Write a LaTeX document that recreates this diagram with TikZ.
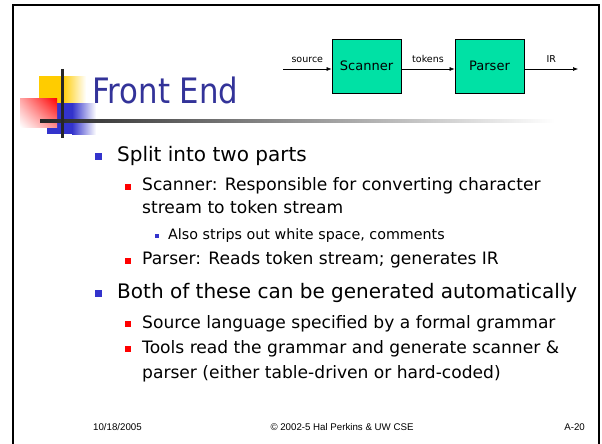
\documentclass[tikz,border=0pt]{standalone}
\usepackage{fontspec}
\setmainfont{DejaVu Sans}
\newfontfamily\titlefont{DejaVu Sans}[FakeStretch=0.88]
\newfontfamily\footfont{Liberation Sans}
\usetikzlibrary{arrows.meta,shadings}
\definecolor{titleblue}{RGB}{51,51,153}
\definecolor{bulletblue}{RGB}{51,51,204}
\definecolor{bulletred}{RGB}{255,0,0}
\definecolor{boxgreen}{RGB}{0,225,165}
\definecolor{decoyellow}{RGB}{255,204,0}

\begin{document}
\begin{tikzpicture}[x=1pt,y=-1pt,
  lvlone/.style={anchor=base west, inner sep=0pt, font=\fontsize{20}{24}\selectfont},
  lvltwo/.style={anchor=base west, inner sep=0pt, font=\fontsize{17.1}{20}\selectfont},
  lvlthree/.style={anchor=base west, inner sep=0pt, font=\fontsize{14.3}{17}\selectfont},
  stage/.style={draw=black, line width=0.8pt, fill=boxgreen, minimum width=69pt,
    minimum height=54pt, inner sep=0pt, font=\fontsize{13}{15}\selectfont},
  flow/.style={-{Latex[length=5pt,width=4pt]}, line width=0.6pt},
  flowlabel/.style={above, inner sep=0pt, yshift=6pt, font=\fontsize{9.5}{11}\selectfont},
  foot/.style={anchor=base, inner sep=0pt, font=\footfont\fontsize{9.7}{11}\selectfont}]

\useasboundingbox (0,0) rectangle (602,444);

% slide frame, open at the bottom edge
\draw[line width=2.5pt] (13,460) -- (13,5) -- (599,5) -- (599,460);

% title ornament: overlapping squares and crossed rules
\fill[decoyellow] (39,76) rectangle (62,103);
\shade[left color=decoyellow, right color=white] (62,76) rectangle (86,103);
\fill[bulletblue] (47,103) rectangle (72,134);
\shade[left color=bulletblue, right color=white] (72,103) rectangle (96,134);
\shade[upper left=red!35, upper right=red, lower right=red!45, lower left=white]
  (20,98) rectangle (57,127);
\shade[left color=black!85, right color=white] (40,119.5) rectangle (555,122.5);
\draw[line width=3pt, black!85] (62,69) -- (62,138);

% title
\node[anchor=base west, inner sep=0pt, text=titleblue,
  font=\titlefont\fontsize{35}{40}\selectfont] (title) at (92,103) {Front End};

% pipeline
\node[stage] (scanner) at (366.5,66) {Scanner};
\node[stage] (parser) at (489.5,66) {Parser};
\coordinate (src) at (283,69);
\coordinate (irout) at (578,69);
\draw[flow] (src) -- node[flowlabel]{source} (src -| scanner.west);
\draw[flow] ([yshift=-3pt]scanner.east) -- node[flowlabel]{tokens} ([yshift=-3pt]parser.west);
\draw[flow] ([yshift=-3pt]parser.east) -- node[flowlabel]{IR} (irout);

% bullet list
\fill[bulletblue] (95,153) rectangle (102,160);
\node[lvlone] (splitparts) at (117,161) {Split into two parts};
\fill[bulletred] (125,184) rectangle (130.5,189.5);
\node[lvltwo] (scanitem) at (142,190) {Scanner: Responsible for converting character};
\node[lvltwo] (scanitemb) at (142,213) {stream to token stream};
\fill[bulletblue] (155,234) rectangle (158.5,237.5);
\node[lvlthree] (strips) at (168,239) {Also strips out white space, comments};
\fill[bulletred] (125,258) rectangle (130.5,263.5);
\node[lvltwo] (parseitem) at (142,264) {Parser: Reads token stream; generates IR};
\fill[bulletblue] (95,290) rectangle (102,297);
\node[lvlone] (bothitem) at (117,298) {Both of these can be generated automatically};
\fill[bulletred] (125,321) rectangle (130.5,326.5);
\node[lvltwo] (sourceitem) at (142,328) {Source language specified by a formal grammar};
\fill[bulletred] (125,346) rectangle (130.5,351.5);
\node[lvltwo] (toolsitem) at (142,353) {Tools read the grammar and generate scanner \&};
\node[lvltwo] (toolsitemb) at (142,378) {parser (either table-driven or hard-coded)};

% footer
\node[foot, anchor=base west] (date) at (93,430) {10/18/2005};
\node[foot] (copy) at (342,430) {© 2002-5 Hal Perkins \& UW CSE};
\node[foot, anchor=base east] (pagenum) at (585,430) {A-20};
\end{tikzpicture}
\end{document}
